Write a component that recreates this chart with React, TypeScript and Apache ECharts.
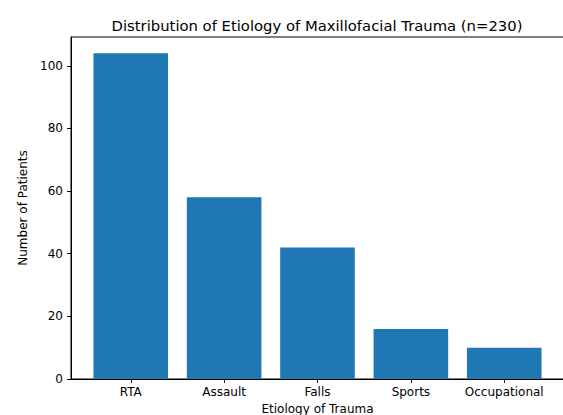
import React, { useEffect, useRef } from "react";
import * as echarts from "echarts";

const categories = ["RTA", "Assault", "Falls", "Sports", "Occupational"];
const patients = [104, 58, 42, 16, 10];
const yTicks = [0, 20, 40, 60, 80, 100];

export default function App() {
  const ref = useRef<HTMLDivElement>(null);
  useEffect(() => {
    if (!ref.current) return;
    const chart = echarts.init(ref.current, null, { renderer: "svg" });
    const font = "DejaVu Sans";
    const idx = categories.map((_, i) => i);
    chart.setOption({
      animation: false,
      textStyle: { fontFamily: font },
      title: {
        text: "Distribution of Etiology of Maxillofacial Trauma (n=230)",
        left: 312,
        textAlign: "center",
        top: 13,
        textStyle: { fontFamily: font, fontSize: 14.8, fontWeight: "normal", color: "#000" },
      },
      grid: {
        left: 71,
        right: -1,
        top: 37,
        bottom: 36,
        outerBoundsMode: "none",
        containLabel: false,
        show: true,
        borderColor: "#000",
        borderWidth: 1,
        backgroundColor: "transparent",
      },
      xAxis: {
        type: "value",
        min: -0.64,
        max: 4.64,
        name: "Etiology of Trauma",
        nameLocation: "middle",
        nameGap: 24,
        nameTextStyle: { fontFamily: font, fontSize: 12, color: "#000" },
        splitLine: { show: false },
        axisLine: { show: true, onZero: false, lineStyle: { color: "#000", width: 1 } },
        axisTick: { show: true, length: 4, customValues: idx, lineStyle: { color: "#000" } },
        axisLabel: {
          customValues: idx,
          fontFamily: font,
          fontSize: 12,
          color: "#000",
          margin: 7,
          formatter: (v: number) => categories[Math.round(v)] ?? "",
        },
      },
      yAxis: {
        type: "value",
        min: 0,
        max: 109.2,
        name: "Number of Patients",
        nameLocation: "middle",
        nameGap: 36,
        nameTextStyle: { fontFamily: font, fontSize: 12, color: "#000" },
        splitLine: { show: false },
        axisLine: { show: true, onZero: false, lineStyle: { color: "#000", width: 1 } },
        axisTick: { show: true, length: 4, customValues: yTicks, lineStyle: { color: "#000" } },
        axisLabel: {
          customValues: yTicks,
          fontFamily: font,
          fontSize: 12,
          color: "#000",
          margin: 8,
        },
      },
      series: [
        {
          type: "bar",
          barWidth: 74.6,
          itemStyle: { color: "#1f77b4" },
          data: patients.map((v, i) => [i, v]),
        },
      ],
    });
    return () => chart.dispose();
  }, []);
  return (
    <div
      ref={ref}
      style={{ position: "fixed", left: 0, top: 0, width: 563, height: 415, background: "#fff" }}
    />
  );
}
